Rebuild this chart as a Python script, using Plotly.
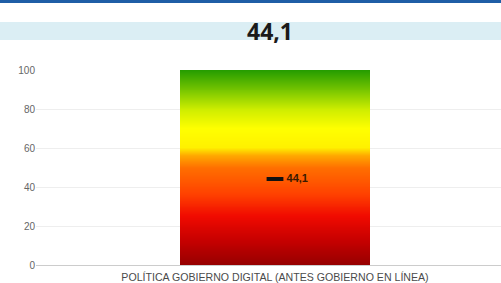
import numpy as np
import plotly.graph_objects as go

# ---- data ----
category = "POLÍTICA GOBIERNO DIGITAL (ANTES GOBIERNO EN LÍNEA)"
score = 44.1
scale_min = 0
scale_max = 100
y_ticks = [0, 20, 40, 60, 80, 100]
gradient_stops = [
    [0.00, "#960000"],
    [0.12, "#c40000"],
    [0.25, "#f00a00"],
    [0.36, "#ff4000"],
    [0.50, "#ff7000"],
    [0.56, "#ffa800"],
    [0.60, "#fff000"],
    [0.70, "#ffff00"],
    [0.80, "#ccec00"],
    [0.90, "#74c400"],
    [1.00, "#239b00"],
]

# fine levels spanning the scale for the gradient column
edges = np.linspace(scale_min, scale_max, 401)
mids = (edges[:-1] + edges[1:]) / 2

score_txt = f"{score:.1f}".replace(".", ",")

fig = go.Figure()
fig.add_trace(go.Heatmap(
    x=[category],
    y=edges,
    z=[[v] for v in mids],
    colorscale=gradient_stops,
    zmin=scale_min, zmax=scale_max,
    showscale=False,
    hoverinfo="skip",
))
fig.add_trace(go.Scatter(
    x=[category], y=[score],
    mode="markers+text",
    marker=dict(symbol="line-ew", size=12, line=dict(width=4, color="#111111")),
    text=["\u00a0" + score_txt],
    textposition="middle right",
    textfont=dict(family="Liberation Sans, Arial", size=11, color="#3a1a00", weight="bold"),
    hoverinfo="skip",
))

W, H = 501, 283
ml, mr, mt, mb = 36, 0, 70, 18
ph = H - mt - mb
pw = W - ml - mr

def py(p):
    return (H - mb - p) / ph

fig.update_layout(
    width=W, height=H,
    margin=dict(l=ml, r=mr, t=mt, b=mb),
    paper_bgcolor="white", plot_bgcolor="white",
    showlegend=False,
    separators=",.",
    font=dict(family="Liberation Sans, Arial", color="#555555"),
    xaxis=dict(
        range=[-(275 - ml) / 190, (W - 275) / 190],
        showgrid=False, zeroline=False, showline=False,
        tickfont=dict(size=10.6, color="#4a4a4a"),
        ticks="outside", ticklen=2, tickcolor="rgba(0,0,0,0)",
        fixedrange=True, automargin=False,
    ),
    yaxis=dict(
        range=[scale_min, scale_max],
        tickvals=y_ticks,
        tickfont=dict(size=10, color="#666666"),
        gridcolor="#eeeeee", gridwidth=1,
        zeroline=True, zerolinecolor="#cccccc", zerolinewidth=1,
        showline=False, ticks="", automargin=False,
    ),
    shapes=[
        dict(type="rect", xref="paper", yref="paper",
             x0=-ml / pw, x1=1.01, y0=py(3), y1=py(-2),
             fillcolor="#1f5ea6", line=dict(width=0), layer="above"),
        dict(type="rect", xref="paper", yref="paper",
             x0=-ml / pw, x1=1.01, y0=py(40), y1=py(22),
             fillcolor="#dbeef4", line=dict(width=0), layer="below"),
    ],
    annotations=[
        dict(text=f"<b>{score_txt}</b>",
             xref="paper", yref="paper",
             x=(270 - ml) / pw, y=py(31),
             xanchor="center", yanchor="middle", showarrow=False,
             font=dict(family="Open Sans, Liberation Sans", size=23, color="#1a1a1a")),
    ],
)

fig.write_html(
    "out.html",
    config={"displayModeBar": False, "staticPlot": True},
    post_script="document.body.style.margin='0';document.body.style.overflow='hidden';",
)
